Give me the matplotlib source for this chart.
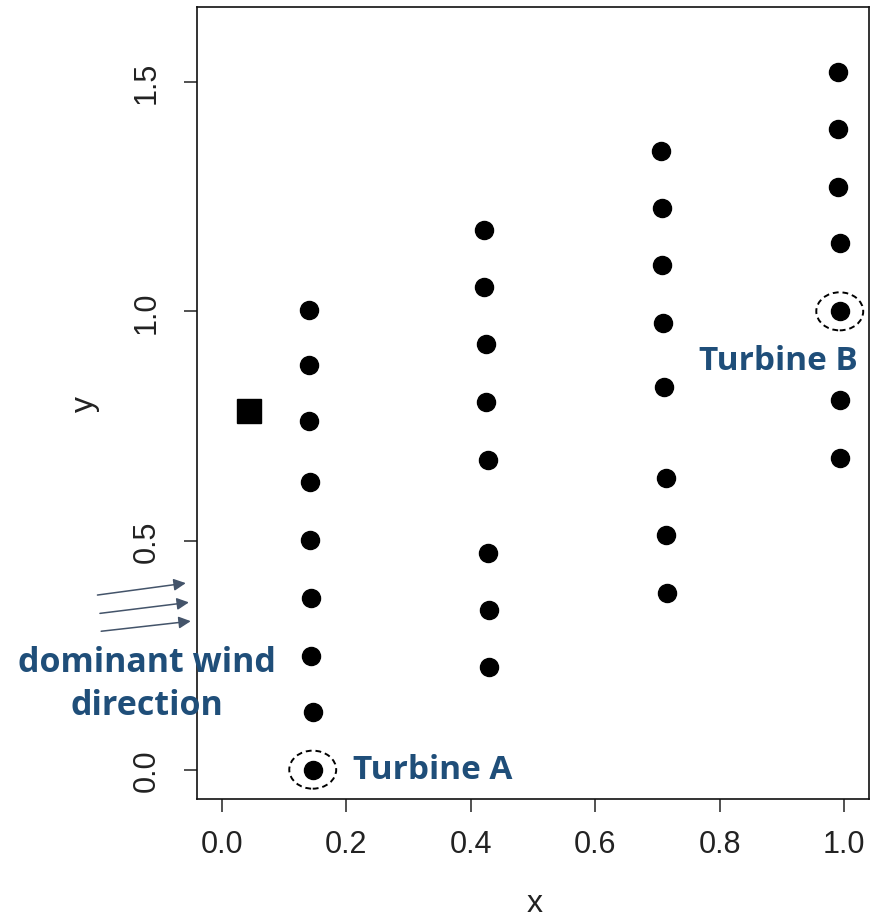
import numpy as np
import matplotlib
matplotlib.use("Agg")
import matplotlib.pyplot as plt
from matplotlib.patches import Ellipse

# turbine positions (four rows of turbines)
col1_x = [0.140, 0.140, 0.140, 0.141, 0.141, 0.143, 0.144, 0.147, 0.146]
col1_y = [1.004, 0.884, 0.761, 0.628, 0.501, 0.374, 0.249, 0.125, 0.0]
col2_x = [0.422, 0.422, 0.425, 0.425, 0.427, 0.427, 0.430, 0.430]
col2_y = [1.177, 1.053, 0.928, 0.803, 0.676, 0.473, 0.348, 0.223]
col3_x = [0.706, 0.707, 0.707, 0.709, 0.710, 0.714, 0.714, 0.715]
col3_y = [1.350, 1.225, 1.101, 0.974, 0.834, 0.637, 0.512, 0.385]
col4_x = [0.990, 0.990, 0.990, 0.993, 0.993, 0.994, 0.994]
col4_y = [1.523, 1.398, 1.271, 1.149, 1.000, 0.807, 0.681]

# met mast (square)
mast_x = [0.043]
mast_y = [0.783]

# highlighted turbines
turbine_labels = ["Turbine A", "Turbine B"]
turbine_x = [0.146, 0.993]
turbine_y = [0.0, 1.000]

xticks = [0.0, 0.2, 0.4, 0.6, 0.8, 1.0]
yticks = [0.0, 0.5, 1.0, 1.5]

blue = "#1F4E79"
arrow_col = "#44546A"

fig = plt.figure(figsize=(8.73, 9.20), dpi=100)
ax = fig.add_axes([197 / 873, 1 - 800 / 920, 672 / 873, 792 / 920])

xs = col1_x + col2_x + col3_x + col4_x
ys = col1_y + col2_y + col3_y + col4_y
ax.plot(xs, ys, "o", color="black", ms=13, mec="black")
ax.plot(mast_x, mast_y, "s", color="black", ms=17)

ax.set_xlim(-0.04, 1.04)
ax.set_ylim(-0.064, 1.664)
ax.set_xticks(xticks)
ax.set_yticks(yticks)
ax.set_xticklabels(["%.1f" % v for v in xticks])
ax.set_yticklabels(["%.1f" % v for v in yticks], rotation=90, va="center")

tick_font = "Liberation Sans"
for lab in ax.get_xticklabels() + ax.get_yticklabels():
    lab.set_fontfamily(tick_font)
    lab.set_fontsize(22)
    lab.set_color("#222222")
ax.tick_params(axis="both", direction="out", length=9.5, width=1.1, color="#222222")
ax.tick_params(axis="x", pad=12)
ax.tick_params(axis="y", pad=16)
for sp in ax.spines.values():
    sp.set_linewidth(1.2)
    sp.set_color("#111111")

ax.set_xlabel("x", fontsize=23, family=tick_font, color="#222222")
ax.set_ylabel("y", fontsize=23, family=tick_font, color="#222222")
ax.xaxis.set_label_coords(0.503, -0.112)
ax.yaxis.set_label_coords(-0.145, 0.50)

# dashed rings around the two named turbines
for tx, ty in zip(turbine_x, turbine_y):
    ax.add_patch(Ellipse((tx, ty), 0.0754, 0.083, fill=False, ls=(0, (3, 2)),
                         lw=1.4, ec="black", zorder=3))

ax.text(0.210, turbine_y[0], turbine_labels[0], ha="left", va="center",
        fontsize=24, fontweight="bold", color=blue, family="Open Sans")
ax.text(0.767, 0.893, turbine_labels[1], ha="left", va="center",
        fontsize=24, fontweight="bold", color=blue, family="Open Sans", clip_on=False)

ax.text(-0.120, 0.188, "dominant wind\ndirection", ha="center", va="center",
        fontsize=24.5, fontweight="bold", color=blue, family="Open Sans",
        linespacing=1.35, clip_on=False)

# wind arrows
for (x0, y0), (x1, y1) in [((-0.200, 0.381), (-0.058, 0.407)),
                           ((-0.196, 0.341), (-0.053, 0.365)),
                           ((-0.194, 0.302), (-0.050, 0.324))]:
    ax.annotate("", xy=(x1, y1), xytext=(x0, y0), xycoords="data",
                annotation_clip=False,
                arrowprops=dict(arrowstyle="-|>", color=arrow_col, lw=1.1,
                                mutation_scale=18, shrinkA=0, shrinkB=0))

fig.savefig("out.png", dpi=100)
